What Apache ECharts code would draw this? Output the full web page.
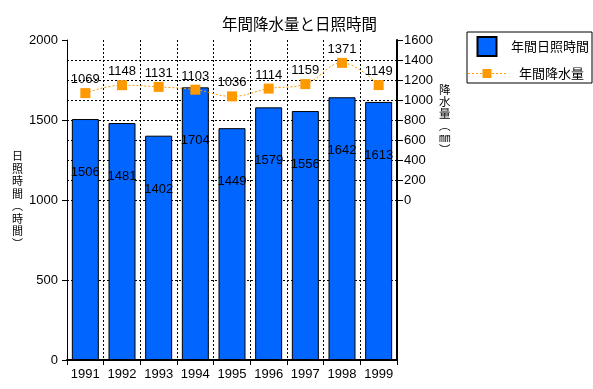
<!DOCTYPE html>
<html>
<head>
<meta charset="utf-8">
<script src="https://cdn.jsdelivr.net/npm/echarts@6/dist/echarts.min.js"></script>
<style>
html,body{margin:0;padding:0;background:#fff;}
#c{width:593px;height:389px;}
</style>
</head>
<body>
<div id="c"></div>
<script>
const years = ['1991','1992','1993','1994','1995','1996','1997','1998','1999'];
const sunshineHours = [1506,1481,1402,1704,1449,1579,1556,1642,1613];
const precipitation = [1069,1148,1131,1103,1036,1114,1159,1371,1149];
const leftTicks = [0,500,1000,1500,2000];
const rightTicks = [0,200,400,600,800,1000,1200,1400,1600];

const FONT = '"Liberation Sans", "Noto Sans CJK JP", sans-serif';
const JFONT = '"Noto Sans CJK JP", sans-serif';
const dotted = [2,2];
const plain = v => String(v);

// legend icon for the line series: dotted line with small square marker (38 x 9 box)
let dash = '';
for (let x = 0; x < 38; x += 4) {
  if (x + 2 <= 14 || x >= 24) dash += 'M' + x + ',4H' + (x + 2) + 'V5H' + x + 'Z ';
}
const lineIcon = 'path://' + dash + 'M0,4H0.01V5H0Z M37.99,4H38V5H37.99Z M14.5,0H23.5V9H14.5Z';

const chart = echarts.init(document.getElementById('c'), null, {renderer:'canvas'});
chart.setOption({
  animation:false,
  backgroundColor:'#fff',
  textStyle:{fontFamily:FONT, color:'#000'},
  title:{
    text:'年間降水量と日照時間',
    left:217, top:11,
    textStyle:{fontFamily:JFONT, fontSize:15.5, fontWeight:'normal', color:'#000'}
  },
  legend:{
    orient:'vertical',
    left:467, top:32,
    padding:[4,3,3,1],
    itemGap:10,
    itemWidth:38,
    itemHeight:19,
    borderColor:'#000',
    borderWidth:1,
    textStyle:{fontFamily:JFONT, fontSize:13, color:'#000'},
    data:[
      {name:'年間日照時間', icon:'path://M0,0H10V10H0Z'},
      {name:'年間降水量', icon:lineIcon, itemStyle:{borderWidth:0}, textStyle:{padding:[0,0,0,8]}}
    ]
  },
  grid:[
    {left:67, right:196, top:40, bottom:29},
    {left:67, right:196, top:40, height:160}
  ],
  xAxis:[
    {
      type:'category', gridIndex:0, data:years, boundaryGap:true,
      axisLine:{show:true, lineStyle:{color:'#000', width:2}},
      axisTick:{show:true, interval:0, length:5, lineStyle:{color:'#000'}},
      axisLabel:{interval:0, fontSize:13, color:'#000', margin:8, fontFamily:FONT},
      splitLine:{show:true, interval:0, lineStyle:{color:'#000', type:dotted, width:1}}
    },
    {
      type:'category', gridIndex:1, data:years, boundaryGap:true, show:false
    }
  ],
  yAxis:[
    {
      type:'value', gridIndex:0, position:'left',
      min:leftTicks[0], max:leftTicks[leftTicks.length-1], interval:500,
      name:'日\n照\n時\n間\n︵\n時\n間\n︶',
      nameLocation:'middle', nameRotate:0, nameGap:44,
      nameTextStyle:{fontFamily:JFONT, fontSize:11, lineHeight:12.5, color:'#000'},
      axisLine:{show:true, lineStyle:{color:'#000', width:1}},
      axisTick:{show:true, length:5, lineStyle:{color:'#000'}},
      axisLabel:{fontSize:13, color:'#000', margin:9, fontFamily:FONT, formatter:plain},
      splitLine:{show:true, showMaxLine:false, lineStyle:{color:'#000', type:dotted, width:1}}
    },
    {
      type:'value', gridIndex:0, position:'right',
      min:0, max:2000, interval:500,
      axisLine:{show:true, lineStyle:{color:'#000', width:2}},
      axisTick:{show:false}, axisLabel:{show:false}, splitLine:{show:false}
    },
    {
      type:'value', gridIndex:1, position:'right',
      min:rightTicks[0], max:rightTicks[rightTicks.length-1], interval:200,
      name:'降\n水\n量\n︵\n㎜\n︶',
      nameLocation:'middle', nameRotate:0, nameGap:42,
      nameTextStyle:{fontFamily:JFONT, fontSize:11.5, lineHeight:12, color:'#000'},
      axisLine:{show:false},
      axisTick:{show:true, length:6, lineStyle:{color:'#000'}},
      axisLabel:{fontSize:13, color:'#000', margin:7, fontFamily:FONT, formatter:plain},
      splitLine:{show:true, showMaxLine:false, lineStyle:{color:'#000', type:dotted, width:1}}
    }
  ],
  series:[
    {
      name:'年間日照時間', type:'bar', xAxisIndex:0, yAxisIndex:0,
      data:sunshineHours, barWidth:27,
      itemStyle:{color:'#0066ff', borderColor:'#000', borderWidth:1},
      label:{show:true, position:'insideTop', distance:47, color:'#000', fontSize:13, fontFamily:FONT}
    },
    {
      name:'年間降水量', type:'line', xAxisIndex:1, yAxisIndex:2,
      data:precipitation, smooth:0.4, z:5,
      symbol:'rect', symbolSize:10,
      itemStyle:{color:'#ff9900'},
      lineStyle:{color:'#ff9900', width:1, type:dotted},
      label:{show:true, position:'top', distance:2, color:'#000', fontSize:13, fontFamily:FONT}
    }
  ]
});
</script>
</body>
</html>
